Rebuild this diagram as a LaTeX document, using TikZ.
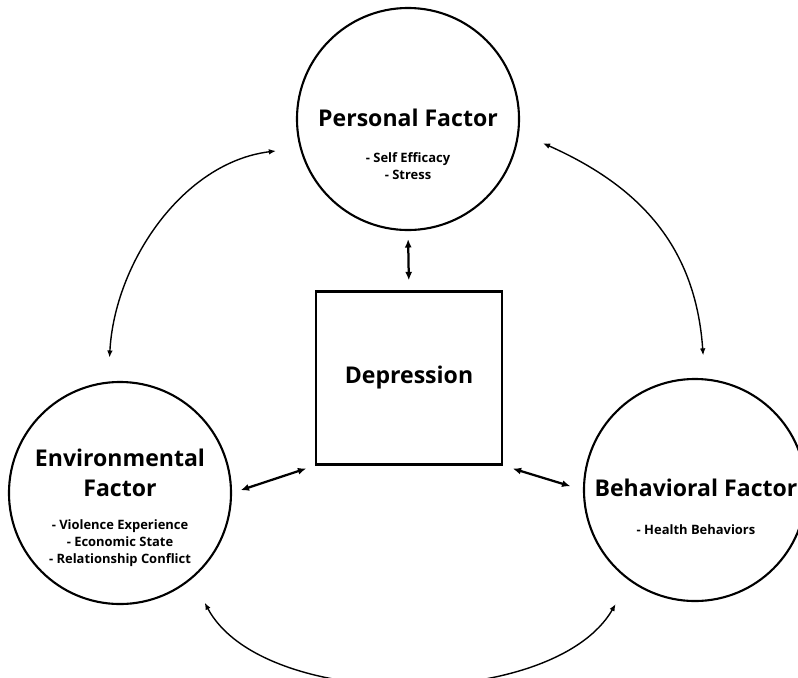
\documentclass[tikz,border=0pt]{standalone}
\usepackage{fontspec}
\setmainfont{Open Sans}
\usetikzlibrary{arrows.meta}
\tikzset{
  factor/.style={circle, draw, line width=1.5pt, minimum size=5.55cm, inner sep=0pt},
  centerbox/.style={rectangle, draw, line width=1.6pt, minimum width=4.65cm, minimum height=4.325cm},
  title/.style={font=\bfseries\fontsize{16.4}{21}\selectfont, align=center},
  items/.style={font=\bfseries\fontsize{9.2}{11.9}\selectfont, align=center},
  biarrow/.style={{Latex[length=6pt,width=5pt]}-{Latex[length=6pt,width=5pt]}, line width=1.6pt},
  curvearrow/.style={{Latex[length=5pt,width=4pt]}-{Latex[length=5pt,width=4pt]}, line width=1pt},
}
\begin{document}
\begin{tikzpicture}[x=0.025cm, y=-0.025cm]
\useasboundingbox (0,0) rectangle (798,678);
\clip (0,0) rectangle (798,678);
% the three factors and the centre box
\node[factor] (personal) at (408,119) {};
\node[factor] (environmental) at (120,493) {};
\node[factor] (behavioral) at (695,490) {};
\node[centerbox, title] (depression) at (409,378) {Depression};
% texts
\node[title] (ptitle) at (408,118) {Personal Factor};
\node[items] (pitems) at (408,166) {- Self Efficacy\\- Stress};
\node[title] (etitle) at (120,473) {Environmental\\Factor};
\node[items] (eitems) at (120,543) {- Violence Experience\\- Economic State\\- Relationship Conflict};
\node[title] (btitle) at (696,488) {Behavioral Factor};
\node[items] (bitems) at (696,530) {- Health Behaviors};
% links to depression
\draw[biarrow, shorten <=0.2cm, shorten >=0.25cm] (personal.south) -- (depression.north);
\draw[biarrow, shorten <=0.225cm, shorten >=0.225cm] (environmental.east) -- (depression.south west);
\draw[biarrow, shorten <=0.25cm, shorten >=0.325cm] (depression.south east) -- (behavioral.west);
% links between factors
\draw[curvearrow, shorten <=0.6cm, shorten >=0.6cm] (personal.195) to[out=187, in=87] (environmental.96);
\draw[curvearrow, shorten <=0.65cm, shorten >=0.575cm] (personal.353) to[out=336, in=94, looseness=1.1] (behavioral.85);
\draw[curvearrow, shorten <=0.675cm, shorten >=0.675cm] (environmental.310) to[out=298, in=240, looseness=0.88] (behavioral.234);
\end{tikzpicture}
\end{document}
